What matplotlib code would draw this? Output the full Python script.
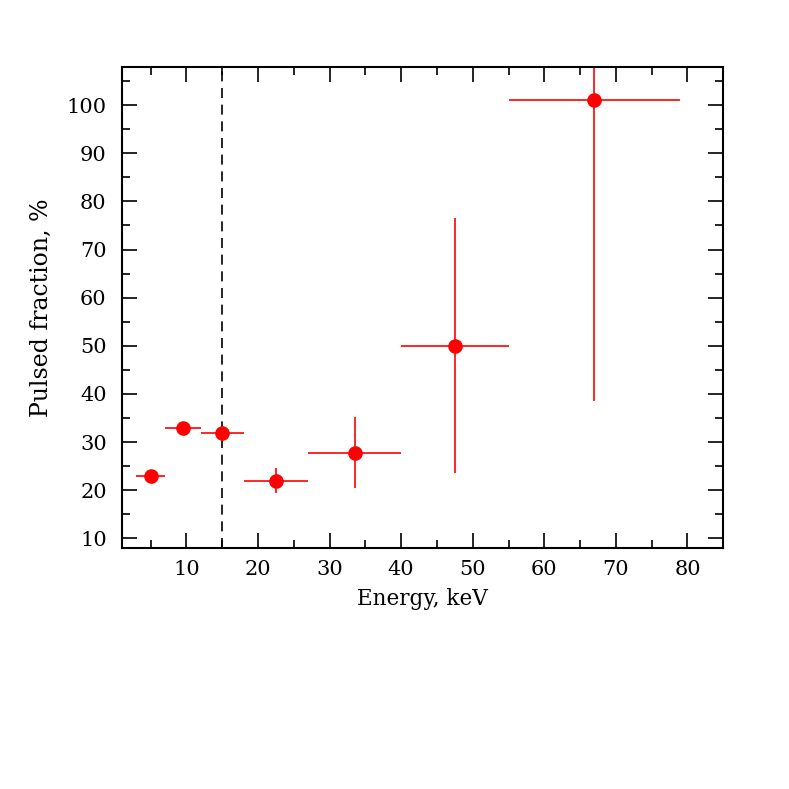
import matplotlib
matplotlib.use("Agg")
import matplotlib.pyplot as plt
from matplotlib.ticker import MultipleLocator

# Pulsed fraction vs energy
energy = [5, 9.5, 15, 22.5, 33.5, 47.5, 67]
energy_lo = [3, 7, 12, 18, 27, 40, 55]
energy_hi = [7, 12, 18, 27, 40, 55, 79]
pf = [23, 33, 31.8, 22, 27.8, 50, 101]
pf_err = [0.8, 0.8, 0.8, 2.6, 7.4, 26.5, 62.5]
boundary_energy = 15

plt.rcParams['font.family'] = 'DejaVu Serif'

fig = plt.figure(figsize=(7.89, 7.89), dpi=100)
ax = fig.add_axes([0.1546, 0.3055, 0.7621, 0.61])

xerr = [[e - lo for e, lo in zip(energy, energy_lo)],
        [hi - e for e, hi in zip(energy, energy_hi)]]
ax.errorbar(energy, pf, xerr=xerr, yerr=pf_err, fmt='o', color='red',
            markersize=9.5, elinewidth=1.2, capsize=0)
ax.axvline(boundary_energy, color='black', linestyle=(0, (6, 4)), linewidth=1.2)

ax.set_xlim(1, 85)
ax.set_ylim(8, 108)
ax.xaxis.set_major_locator(MultipleLocator(10))
ax.xaxis.set_minor_locator(MultipleLocator(5))
ax.yaxis.set_major_locator(MultipleLocator(10))
ax.yaxis.set_minor_locator(MultipleLocator(5))
ax.tick_params(which='both', direction='in', top=True, right=True, width=1.2,
               labelsize=15)
ax.tick_params(axis='y', pad=11)
ax.tick_params(axis='x', pad=9)
ax.tick_params(which='major', length=11)
ax.tick_params(which='minor', length=5.5)
for s in ax.spines.values():
    s.set_linewidth(1.5)

ax.set_xlabel('Energy, keV', fontsize=15.5, labelpad=6)
ax.set_ylabel('Pulsed fraction, %', fontsize=17, labelpad=10)

plt.savefig('out.png', dpi=100)
